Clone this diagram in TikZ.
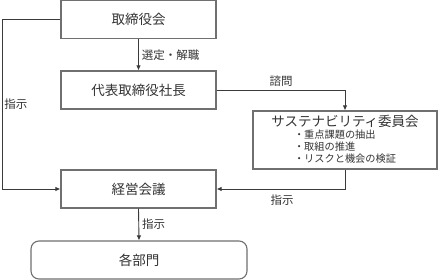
\documentclass[tikz,border=0pt]{standalone}
\usepackage{fontspec}
\setmainfont{Noto Sans CJK JP}
\usetikzlibrary{positioning, calc, arrows.meta}
\definecolor{Line}{HTML}{3A3A3A}
\definecolor{Frame}{HTML}{707070}
\definecolor{Ink}{HTML}{333333}
\tikzset{
    orgbox/.style={rectangle, draw=Frame, line width=1.1pt, fill=white, text=Ink, align=center, minimum width=155pt, minimum height=38pt, inner sep=2pt, font=\fontsize{13.5}{16}\selectfont},
    deptbox/.style={orgbox, rounded corners=8pt, minimum width=216pt},
    linkarrow/.style={-{Latex[length=5pt,width=4.5pt]}, line width=0.9pt, color=Line},
    linklabel/.style={text=Ink, font=\fontsize{11.5}{14}\selectfont, inner sep=1pt},
}

\begin{document}
\begin{tikzpicture}[x=1pt, y=-1pt]
    \useasboundingbox (0,0) rectangle (439,280);

    % Boxes
    \node[orgbox] (board) at (138.5,19.5) {取締役会};
    \node[orgbox] (ceo) at (138.5,90) {代表取締役社長};
    \node[orgbox] (mgmt) at (138.5,189) {経営会議};
    \node[deptbox] (depts) at (139,260) {各部門};
    \node[orgbox, minimum width=184pt, minimum height=58pt, inner sep=1pt] (susty) at (345,140) {%
        サステナビリティ委員会\\[2pt]
        {\fontsize{10.2}{10.5}\selectfont\begin{tabular}{@{}l@{}}・重点課題の抽出\\・取組の推進\\・リスクと機会の検証\end{tabular}}};

    % Connectors
    \coordinate (leftbend) at (2,19.5);
    \draw[linkarrow] (board.south) -- (ceo.north) node[midway, right, linklabel, xshift=2pt] {選定・解職};
    \draw[linkarrow] (board.west) -- (leftbend) |- (mgmt.west);
    \node[linklabel] (leftlabel) at (16,104) {指示};
    \draw[linkarrow] (ceo.east) -| (susty.north);
    \node[linklabel] (asklabel) at (281,81) {諮問};
    \draw[linkarrow] (susty.south) |- (mgmt.east);
    \node[linklabel] (backlabel) at (282,200) {指示};
    \draw[linkarrow] (mgmt.south) -- (depts.north) node[midway, right, linklabel, xshift=2pt] {指示};

\end{tikzpicture}
\end{document}
